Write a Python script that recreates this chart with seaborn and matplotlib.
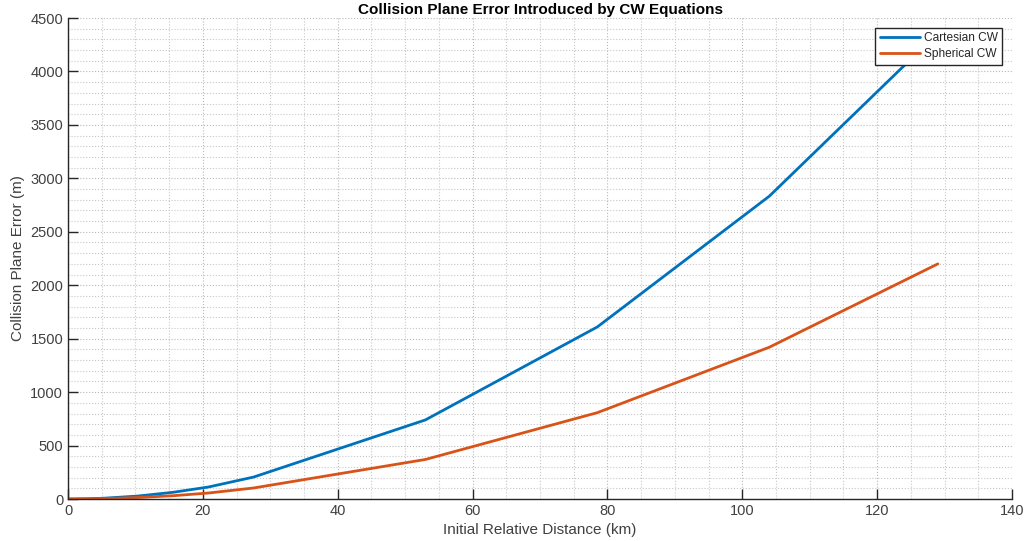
import matplotlib
matplotlib.use("Agg")
import matplotlib.pyplot as plt
from matplotlib.ticker import MultipleLocator
import seaborn as sns
import pandas as pd

# Initial relative distance (km) and collision-plane error (m)
distance_km = [0, 2.6, 5.2, 10.4, 15.6, 20.8, 27.5, 53, 78.5, 104, 129]
cartesian_err = [0, 2, 7, 28, 63, 112, 205, 740, 1610, 2833, 4360]
spherical_err = [0, 1, 3.5, 14, 31, 56, 103, 370, 808, 1420, 2200]
series_names = ["Cartesian CW", "Spherical CW"]
series_colors = ["#0072BD", "#D95319"]

df = pd.concat([
    pd.DataFrame({"x": distance_km, "y": cartesian_err, "model": series_names[0]}),
    pd.DataFrame({"x": distance_km, "y": spherical_err, "model": series_names[1]}),
])

sns.set_theme(style="white")
plt.rcParams["font.family"] = ["Liberation Sans", "DejaVu Sans"]
plt.rcParams["xtick.direction"] = "in"
plt.rcParams["ytick.direction"] = "in"

fig = plt.figure(figsize=(10.26, 5.41), dpi=100)
ax = fig.add_axes([0.0663, 0.0776, 0.9201, 0.8891])

sns.lineplot(data=df, x="x", y="y", hue="model", palette=series_colors,
             linewidth=2.0, ax=ax, sort=False, estimator=None)

ax.set_xlim(0, 140)
ax.set_ylim(0, 4500)
ax.xaxis.set_major_locator(MultipleLocator(20))
ax.xaxis.set_minor_locator(MultipleLocator(5))
ax.yaxis.set_major_locator(MultipleLocator(500))
ax.yaxis.set_minor_locator(MultipleLocator(100))

ax.grid(which="major", linestyle=":", color="#b8b8b8", linewidth=0.8)
ax.grid(which="minor", linestyle=":", color="#c8c8c8", linewidth=0.8)
ax.set_axisbelow(True)

for side in ["top", "right"]:
    ax.spines[side].set_visible(False)
for side in ["left", "bottom"]:
    ax.spines[side].set_color("#262626")
    ax.spines[side].set_linewidth(1.0)

ax.tick_params(which="major", direction="in", length=7, width=1.0,
               color="#262626", labelcolor="#404040", labelsize=10.5,
               bottom=True, left=True, top=False, right=False)
ax.tick_params(which="minor", length=0)

ax.set_xlabel("Initial Relative Distance (km)", fontsize=11, color="#404040")
ax.set_ylabel("Collision Plane Error (m)", fontsize=11, color="#404040")
ax.set_title("Collision Plane Error Introduced by CW Equations",
             fontsize=11, fontweight="bold", color="#000000", pad=3)

leg = ax.legend(loc="upper right", fontsize=8.6, frameon=True, fancybox=False,
                borderaxespad=0.8, handlelength=3.3, borderpad=0.4,
                labelspacing=0.3, handletextpad=0.35)
leg.get_frame().set_edgecolor("#262626")
leg.get_frame().set_linewidth(1.0)
leg.get_frame().set_alpha(1.0)

fig.savefig("out.png", dpi=100)
